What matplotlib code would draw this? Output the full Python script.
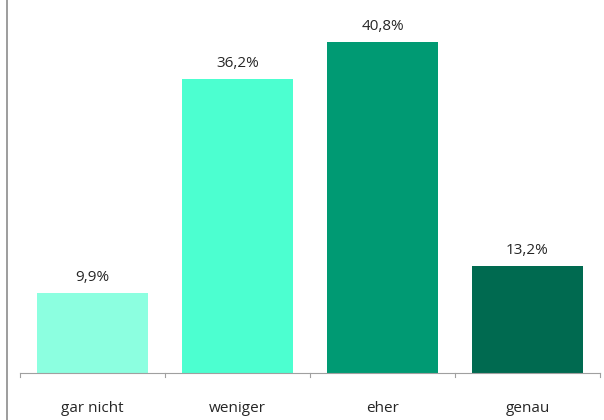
import matplotlib.pyplot as plt
from matplotlib.lines import Line2D

categories = ["gar nicht", "weniger", "eher", "genau"]
values = [9.9, 36.2, 40.8, 13.2]
colors = ["#8CFFE0", "#4CFFD0", "#009A73", "#006A50"]

plt.rcParams['font.family'] = ['Open Sans', 'DejaVu Sans']

fig = plt.figure(figsize=(6.04, 4.20), dpi=100)
ax = fig.add_axes([20 / 604, 47 / 420, 580 / 604, 373 / 420])

x = list(range(len(categories)))
bars = ax.bar(x, values, width=0.77, color=colors, zorder=2)
for b, v in zip(bars, values):
    ax.text(b.get_x() + b.get_width() / 2, v + 1.0, f"{v:.1f}%".replace(".", ","),
            ha="center", va="bottom", fontsize=11, color="#262626")

ax.set_xlim(-0.5, len(categories) - 0.5)
ax.set_ylim(0, 46)
for s in ["top", "right", "left"]:
    ax.spines[s].set_visible(False)
ax.spines["bottom"].set_color("#A0A0A0")
ax.set_yticks([])
ax.set_xticks(x)
ax.set_xticklabels(categories, fontsize=11, color="#262626")
ax.tick_params(axis="x", length=0, pad=20)
# category separators below the axis
for b in [i - 0.5 for i in range(len(categories) + 1)]:
    ax.plot([b, b], [0, -0.45], color="#A0A0A0", lw=0.8, clip_on=False)

# left border line of the figure
fig.add_artist(Line2D([6.5 / 604, 6.5 / 604], [0, 1], color="#8C8C8C", lw=1.2))

fig.savefig("out.png", dpi=100)
